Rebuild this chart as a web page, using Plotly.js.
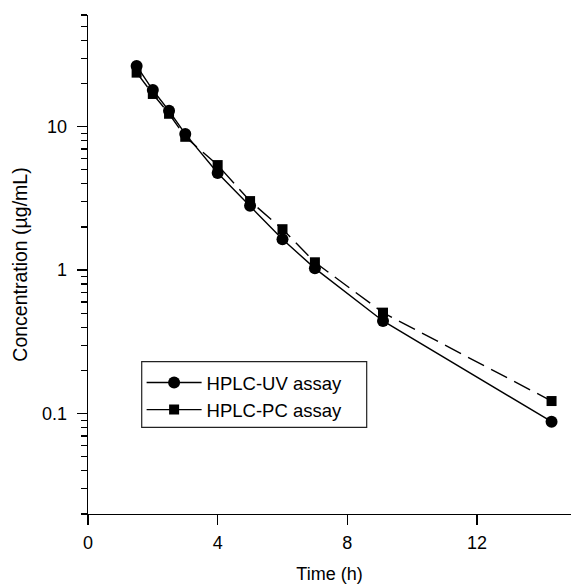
<!DOCTYPE html>
<html>
<head>
<meta charset="utf-8">
<script src="https://cdn.plot.ly/plotly-3.0.1.min.js"></script>
<style>html,body{margin:0;padding:0;background:#fff;}#chart{width:571px;height:587px;}</style>
</head>
<body>
<div id="chart"></div>
<script>
const timeH = [1.5, 2, 2.5, 3, 4, 5, 6, 7, 9.1, 14.3];
const uvConc = [26.5, 18.0, 12.9, 8.9, 4.75, 2.81, 1.64, 1.03, 0.443, 0.088];
const pcConc = [23.8, 16.9, 12.3, 8.5, 5.4, 3.03, 1.93, 1.135, 0.506, 0.1225];
const seriesNames = ["HPLC-UV assay", "HPLC-PC assay"];
const xTickVals = [0, 4, 8, 12];
const yTickVals = [0.1, 1, 10];
const yTickText = ["0.1", "1", "10"];
const yMinorVals = [0.02,0.03,0.04,0.05,0.06,0.07,0.08,0.09,
                    0.2,0.3,0.4,0.5,0.6,0.7,0.8,0.9,
                    2,3,4,5,6,7,8,9,20,30,40,50,60];

const font = {family: "Liberation Sans, Arial, Helvetica, sans-serif", size: 18, color: "#000"};

const traces = [
  {x: timeH, y: uvConc, name: seriesNames[0], type: "scatter", mode: "lines+markers", showlegend: false,
   line: {color: "#000", width: 1.4},
   marker: {symbol: "circle", size: 12, color: "#000"}},
  {x: timeH, y: pcConc, name: seriesNames[1], type: "scatter", mode: "lines+markers", showlegend: false,
   line: {color: "#000", width: 1.4, dash: "18px,8px"},
   marker: {symbol: "square", size: 10, color: "#000"}},
  // legend entries (solid sample lines as in the reference key)
  {x: [null], y: [null], name: seriesNames[0], type: "scatter", mode: "lines+markers",
   line: {color: "#000", width: 1.4}, marker: {symbol: "circle", size: 12, color: "#000"}},
  {x: [null], y: [null], name: seriesNames[1], type: "scatter", mode: "lines+markers",
   line: {color: "#000", width: 1.4}, marker: {symbol: "square", size: 10, color: "#000"}}
];

const layout = {
  width: 571, height: 587,
  margin: {l: 88, r: 0, t: 15, b: 73},
  paper_bgcolor: "#fff", plot_bgcolor: "#fff",
  font: font,
  showlegend: true,
  legend: {x: 0.111, y: 0.3006, xanchor: "left", yanchor: "top",
           bgcolor: "rgba(0,0,0,0)", borderwidth: 0,
           font: {family: font.family, size: 18.5, color: "#000"}, itemwidth: 55, tracegroupgap: 0},
  shapes: [{type: "rect", xref: "paper", yref: "paper", x0: 0.1112, x1: 0.577, y0: 0.1737, y1: 0.3052,
            line: {color: "#222", width: 1.2}, fillcolor: "rgba(0,0,0,0)", layer: "above"}],
  xaxis: {type: "linear", range: [0, 14.9], showline: true, linecolor: "#000", linewidth: 1.4,
          ticks: "outside", ticklen: 10, tickwidth: 1.4, tickcolor: "#000",
          tickmode: "array", tickvals: xTickVals, showgrid: false, zeroline: false,
          ticklabelstandoff: 2,
          title: {text: "Time (h)", font: font, standoff: 15}},
  yaxis: {type: "log", range: [Math.log10(0.02), Math.log10(60)], showline: true, linecolor: "#000", linewidth: 1.4,
          ticks: "outside", ticklen: 10, tickwidth: 1.4, tickcolor: "#000",
          tickmode: "array", tickvals: yTickVals, ticktext: yTickText,
          showgrid: false, zeroline: false, ticklabelstandoff: 6,
          minor: {tickmode: "array", tickvals: yMinorVals, ticks: "outside", ticklen: 6, tickwidth: 1.2, tickcolor: "#000", showgrid: false},
          title: {text: "Concentration (µg/mL)", font: {family: font.family, size: 19.5, color: "#000"}, standoff: 9}}
};

Plotly.newPlot("chart", traces, layout, {displayModeBar: false, staticPlot: true});
</script>
</body>
</html>
